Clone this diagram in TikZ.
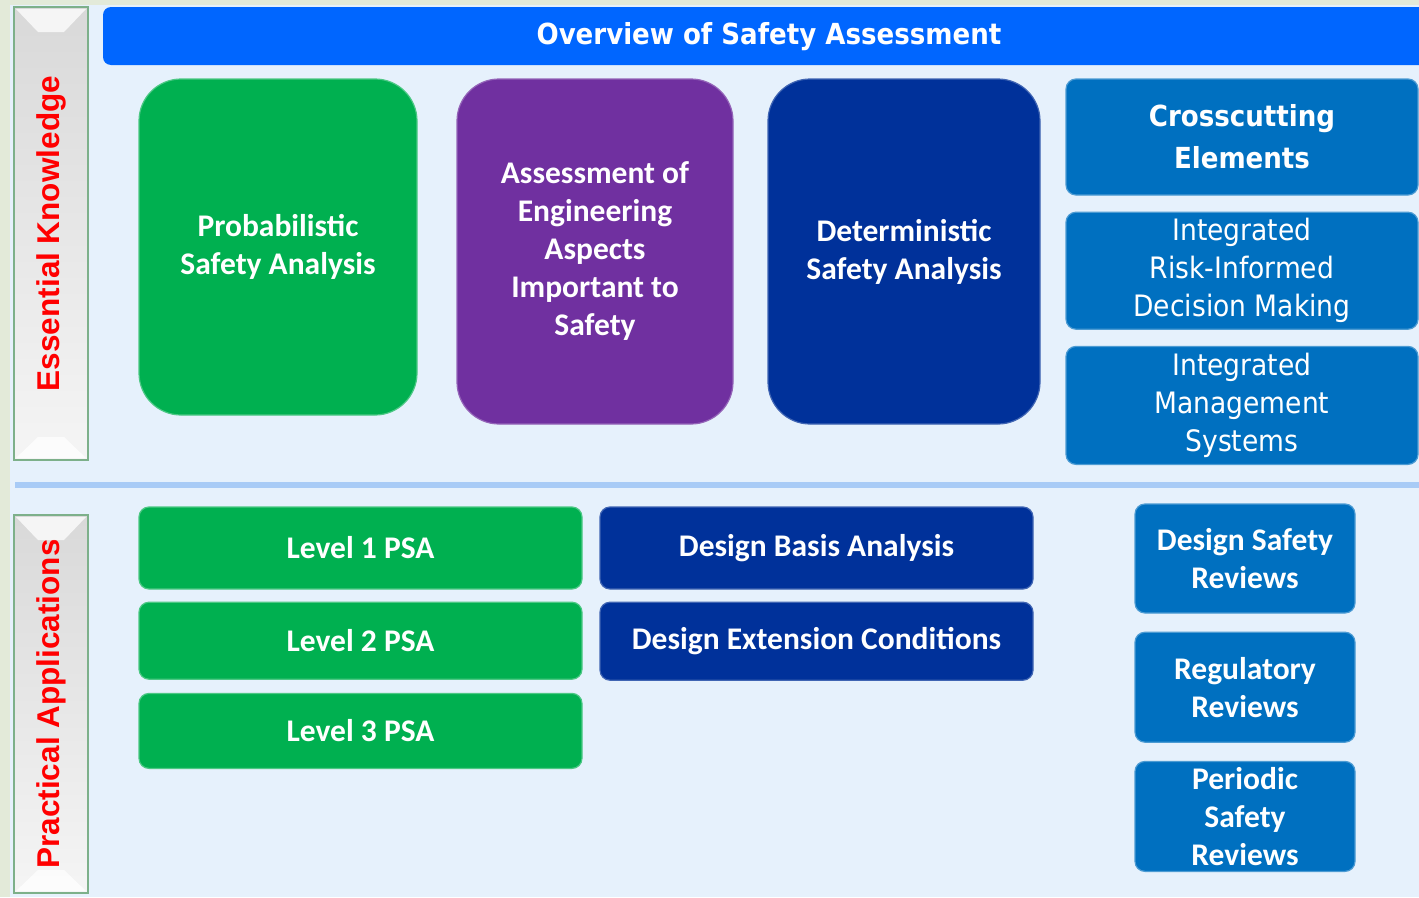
\documentclass[tikz,border=0pt]{standalone}
\usepackage{fontspec}
\setmainfont{Carlito}
\newfontfamily\tahoma{DejaVuSansCondensed}[Extension=.ttf,BoldFont=DejaVuSansCondensed-Bold]
\newfontfamily\arialfont{Liberation Sans}
\usepackage{tikz}
\usetikzlibrary{positioning,calc}

\definecolor{panelbg}{HTML}{E6F1FC}
\definecolor{outerbg}{HTML}{E3EAD9}
\definecolor{headblue}{HTML}{0066FF}
\definecolor{psagreen}{HTML}{00B050}
\definecolor{engpurple}{HTML}{7030A0}
\definecolor{detblue}{HTML}{00319A}
\definecolor{midblue}{HTML}{0070C0}
\definecolor{rulebar}{HTML}{A8CBF6}
\definecolor{labelred}{HTML}{FF0000}
\definecolor{labeledge}{HTML}{7DB08A}

\begin{document}
\begin{tikzpicture}[x=1pt,y=-1pt,
		box/.style={rectangle,rounded corners=10pt,inner sep=0pt,align=center,text=white,line width=1.2pt,
			font=\bfseries\fontsize{31.5}{38}\selectfont},
		bigbox/.style={box,rounded corners=42pt},
		greenbox/.style={fill=psagreen,draw=psagreen!70!white},
		purplebox/.style={fill=engpurple,draw=engpurple!75!white},
		darkbox/.style={fill=detblue,draw=detblue!75!white},
		bluebox/.style={fill=midblue,draw=midblue!70!white},
		tahomatext/.style={font=\tahoma\fontsize{29.5}{38}\selectfont},
		sidelabel/.style={rectangle,rotate=90,inner sep=0pt,draw=labeledge,line width=1.5pt,
			top color=black!15,bottom color=black!4,text=labelred,font=\arialfont\bfseries\fontsize{31.5}{33}\selectfont},
		node distance=12pt
		]
		\useasboundingbox (0,0) rectangle (1419,897);
		\clip (0,0) rectangle (1419,897);
		% background
		\fill[outerbg] (0,0) rectangle (1419,897);
		\fill[panelbg] (10,5) rectangle (1419,897);
		\draw[rulebar,line width=6pt] (15,485) -- (1419,485);

		% side labels
		\node[sidelabel,minimum width=453,minimum height=74] (ek) at (51,233.5) {Essential Knowledge};
		\node[sidelabel,minimum width=378,minimum height=74] (pa) at (51,704) {Practical Applications};
		\fill[white,opacity=.75] (16,9) -- (86,9) -- (64,32) -- (38,32) -- cycle;
		\fill[white,opacity=.75] (16,891) -- (86,891) -- (64,870) -- (38,870) -- cycle;
		\fill[white,opacity=.75] (16,517) -- (86,517) -- (64,540) -- (38,540) -- cycle;
		\fill[white,opacity=.75] (16,458) -- (86,458) -- (64,437) -- (38,437) -- cycle;

		% header
		\node[fill=headblue,rounded corners=8pt,minimum width=1330,minimum height=58,inner sep=0pt] (head) at (768,36) {};
		\node[text=white,font=\tahoma\bfseries\fontsize{29}{30}\selectfont] (headtxt) at (769,37) {Overview of Safety Assessment};

		% essential knowledge
		\node[bigbox,greenbox,minimum width=278,minimum height=336] (psa) at (278,247) {Probabilistic\\Safety Analysis};
		\node[bigbox,purplebox,minimum width=276,minimum height=345] (eng) at (595,251.5) {Assessment of\\Engineering\\Aspects\\Important to\\Safety};
		\node[bigbox,darkbox,minimum width=272,minimum height=345] (dsa) at (904,251.5) {Deterministic\\Safety Analysis};
		\node[box,bluebox,minimum width=352,minimum height=116,font=\tahoma\bfseries\fontsize{29}{42}\selectfont] (cross) at (1242,137) {Crosscutting\\Elements};
		\node[box,bluebox,tahomatext,minimum width=352,minimum height=117,below=16pt of cross] (ridm) {Integrated\\Risk-Informed\\Decision Making};
		\node[box,bluebox,tahomatext,minimum width=352,minimum height=118,below=16pt of ridm] (ims) {Integrated\\Management\\Systems};

		% practical applications
		\node[box,greenbox,minimum width=443,minimum height=82] (lev1) at (360.5,548) {Level 1 PSA};
		\node[box,greenbox,minimum width=443,minimum height=77,below=of lev1] (lev2) {Level 2 PSA};
		\node[box,greenbox,minimum width=443,minimum height=75,below=13pt of lev2] (lev3) {Level 3 PSA};
		\node[box,darkbox,minimum width=433,minimum height=82] (dba) at (816.5,548) {Design Basis Analysis};
		\node[box,darkbox,minimum width=433,minimum height=78,below=of dba] (dec) {Design Extension Conditions};
		\node[box,bluebox,minimum width=220,minimum height=109] (dsr) at (1245,558.5) {Design Safety\\Reviews};
		\node[box,bluebox,minimum width=220,minimum height=110,below=18pt of dsr] (reg) {Regulatory\\Reviews};
		\node[box,bluebox,minimum width=220,minimum height=110,below=18pt of reg] (psr) {Periodic\\Safety\\Reviews};
\end{tikzpicture}
\end{document}
